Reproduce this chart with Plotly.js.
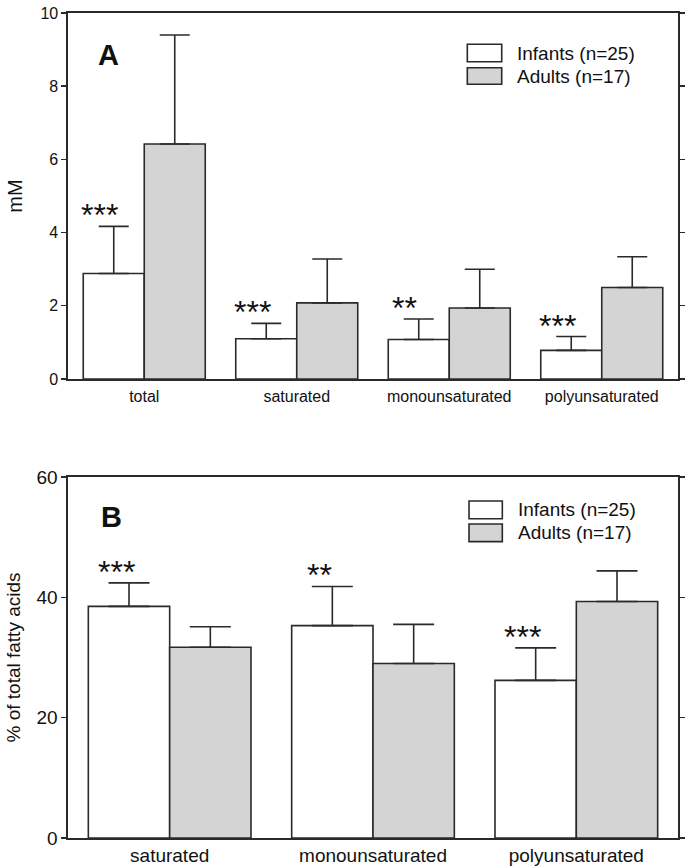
<!DOCTYPE html>
<html>
<head>
<meta charset="utf-8">
<script src="https://cdn.plot.ly/plotly-3.0.1.min.js"></script>
<style>
html, body { margin: 0; padding: 0; background: #ffffff; }
#chart { width: 685px; height: 868px; }
</style>
</head>
<body>
<div id="chart"></div>
<script>
// ---- Data ----
var seriesNames = ['Infants (n=25)', 'Adults (n=17)'];

// Panel A: concentrations (mM)
var categoriesA = ['total', 'saturated', 'monounsaturated', 'polyunsaturated'];
var infantsA = [2.88, 1.10, 1.08, 0.78];
var infantsA_sd = [1.29, 0.42, 0.56, 0.38];
var adultsA = [6.42, 2.08, 1.94, 2.50];
var adultsA_sd = [2.98, 1.20, 1.06, 0.84];
var sigA = ['***', '***', '**', '***'];

// Panel B: % of total fatty acids
var categoriesB = ['saturated', 'monounsaturated', 'polyunsaturated'];
var infantsB = [38.5, 35.3, 26.2];
var infantsB_sd = [3.9, 6.5, 5.4];
var adultsB = [31.7, 29.0, 39.3];
var adultsB_sd = [3.4, 6.5, 5.1];
var sigB = ['***', '**', '***'];

var ticksA = [0, 2, 4, 6, 8, 10];
var ticksB = [0, 20, 40, 60];

// ---- Styles ----
var FONT = 'Liberation Sans, Arial, Helvetica, sans-serif';
var LINE = '#2a2a2a';
var GRAY = '#d4d4d4';

function zeros(n) { var a = []; for (var i = 0; i < n; i++) a.push(0); return a; }

function barTrace(cats, vals, sd, name, fill, xa, ya, capw) {
  return {
    type: 'bar', x: cats, y: vals, name: name, xaxis: xa, yaxis: ya,
    showlegend: false,
    marker: { color: fill, line: { color: LINE, width: 1.6 } },
    error_y: { type: 'data', symmetric: false, array: sd, arrayminus: zeros(sd.length),
               color: LINE, thickness: 1.6, width: capw },
    hoverinfo: 'x+y'
  };
}

var data = [
  barTrace(categoriesA, infantsA, infantsA_sd, seriesNames[0], '#ffffff', 'x', 'y', 15),
  barTrace(categoriesA, adultsA, adultsA_sd, seriesNames[1], GRAY, 'x', 'y', 15),
  barTrace(categoriesB, infantsB, infantsB_sd, seriesNames[0], '#ffffff', 'x2', 'y2', 20.5),
  barTrace(categoriesB, adultsB, adultsB_sd, seriesNames[1], GRAY, 'x2', 'y2', 20.5)
];

var annotations = [];
var shapes = [];

// significance asterisks above infant error bars
function addSig(sig, vals, sd, xref, yref, xshift, yshift) {
  for (var i = 0; i < sig.length; i++) {
    annotations.push({
      x: i - 0.2, y: vals[i] + sd[i], xref: xref, yref: yref,
      text: sig[i], showarrow: false, xanchor: 'center', yanchor: 'bottom',
      xshift: xshift, yshift: yshift,
      font: { family: FONT, size: 32, color: '#111' }
    });
  }
}
addSig(sigA, infantsA, infantsA_sd, 'x', 'y', -14, -9);
addSig(sigB, infantsB, infantsB_sd, 'x2', 'y2', -13, -9);

// panel letters
annotations.push({ x: 0.0656, y: 0.885, xref: 'x domain', yref: 'y domain', text: '<b>A</b>',
  showarrow: false, xanchor: 'center', yanchor: 'middle', font: { family: FONT, size: 29, color: '#111' } });
annotations.push({ x: 0.0705, y: 0.8878, xref: 'x2 domain', yref: 'y2 domain', text: '<b>B</b>',
  showarrow: false, xanchor: 'center', yanchor: 'middle', font: { family: FONT, size: 29, color: '#111' } });

// custom legends
function addLegend(xref, yref, bx0, bx1, tx, rows) {
  var fills = ['#ffffff', GRAY];
  for (var i = 0; i < rows.length; i++) {
    shapes.push({ type: 'rect', xref: xref, yref: yref, x0: bx0, x1: bx1, y0: rows[i][0], y1: rows[i][1],
      fillcolor: fills[i], line: { color: LINE, width: 1.6 } });
    annotations.push({ x: tx, y: (rows[i][0] + rows[i][1]) / 2, xref: xref, yref: yref,
      text: seriesNames[i], showarrow: false, xanchor: 'left', yanchor: 'middle',
      font: { family: FONT, size: 19, color: '#111' } });
  }
}
addLegend('x domain', 'y domain', 0.6546, 0.711, 0.7328, [[0.8669, 0.9145], [0.8052, 0.8505]]);
addLegend('x2 domain', 'y2 domain', 0.6574, 0.7120, 0.7344, [[0.8845, 0.9335], [0.8208, 0.8698]]);

function xAxis(anchor, size, standoff) {
  return {
    anchor: anchor, type: 'category', domain: [0, 1],
    showline: true, mirror: true, linecolor: LINE, linewidth: 1.6,
    ticks: '', showgrid: false, zeroline: false, fixedrange: true,
    ticklabelstandoff: standoff,
    tickfont: { family: FONT, size: size, color: '#111' }
  };
}
function yAxis(anchor, domain, range, tickvals, size, title, tsize, standoff) {
  return {
    anchor: anchor, domain: domain, range: range, tickvals: tickvals,
    showline: true, mirror: 'ticks', linecolor: LINE, linewidth: 1.6,
    ticks: 'outside', ticklen: 5, tickwidth: 1.4, tickcolor: LINE,
    showgrid: false, zeroline: false, fixedrange: true,
    tickfont: { family: FONT, size: size, color: '#111' },
    title: { text: title, standoff: standoff, font: { family: FONT, size: tsize, color: '#111' } }
  };
}

var xa1 = xAxis('y', 16, 2); xa1.range = [-0.5, categoriesA.length - 0.5];
var xa2 = xAxis('y2', 19, 0); xa2.range = [-0.5, categoriesB.length - 0.5];

var layout = {
  width: 685, height: 868,
  margin: { l: 68, r: 7, t: 13, b: 30 },
  paper_bgcolor: '#ffffff', plot_bgcolor: '#ffffff',
  barmode: 'group', bargap: 0.2, bargroupgap: 0,
  showlegend: false,
  xaxis: xa1,
  yaxis: yAxis('x', [0.5564, 1], [0, 10], ticksA, 16, 'mM', 20, 12),
  xaxis2: xa2,
  yaxis2: yAxis('x2', [0, 0.4376], [0, 60], ticksB, 19, '% of total fatty acids', 19, 11),
  annotations: annotations,
  shapes: shapes,
  font: { family: FONT, color: '#111' }
};

Plotly.newPlot('chart', data, layout, { displayModeBar: false, staticPlot: true });
</script>
</body>
</html>
